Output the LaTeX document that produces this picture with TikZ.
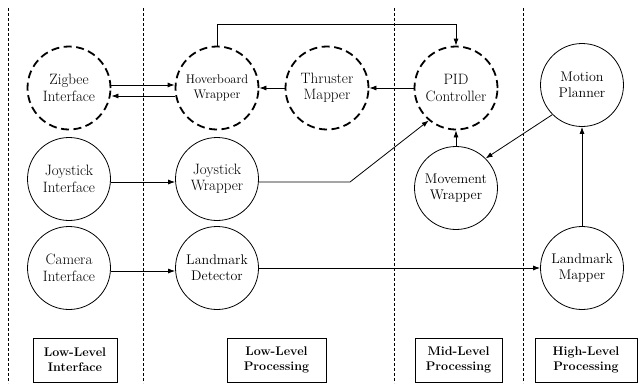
\documentclass[tikz,border=0pt]{standalone}
\usepackage{fontspec}
\usetikzlibrary{arrows.meta}
\tikzset{
	module/.style={circle, draw, line width=0.8pt, minimum size=83pt, inner sep=0pt,
		align=center, font=\fontsize{15}{16.5}\selectfont},
	stubmodule/.style={module, line width=1.8pt, dash pattern=on 8pt off 4.5pt},
	smalltext/.style={font=\fontsize{14}{16}\selectfont},
	tinytext/.style={font=\fontsize{12.5}{14.5}\selectfont},
	levelbox/.style={draw, line width=0.8pt, minimum height=44pt, inner sep=0pt,
		align=center, font=\bfseries\fontsize{12.5}{15}\selectfont},
	divider/.style={line width=0.6pt, dash pattern=on 3pt off 2pt},
	link/.style={line width=0.8pt, -{Latex[length=7pt,width=5pt]}}
}
\newcommand{\Divider}[1]{
	\draw[divider] (#1,8) -- (#1,383);
}
\newcommand{\LevelBox}[4]{
	\node[levelbox, minimum width=#3pt] (#1) at (#2,360) {#4};
}

\begin{document}
\begin{tikzpicture}[x=1pt,y=-1pt]
	\useasboundingbox (0,0) rectangle (639,383);

	\Divider{8}
	\Divider{143}
	\Divider{394}
	\Divider{523}

	% modules
	\node[stubmodule] (zig) at (69,88) {Zigbee\\Interface};
	\node[stubmodule, tinytext] (hov) at (217,88) {Hoverboard\\Wrapper};
	\node[stubmodule] (thr) at (327,88) {Thruster\\Mapper};
	\node[stubmodule] (pid) at (456,88) {PID\\Controller};
	\node[module, smalltext] (mp) at (582,85) {Motion\\Planner};

	\node[module] (ji) at (69,179) {Joystick\\Interface};
	\node[module] (jw) at (217,179) {Joystick\\Wrapper};
	\node[module, smalltext] (mw) at (456,188) {Movement\\Wrapper};

	\node[module] (ci) at (69,268) {Camera\\Interface};
	\node[module, smalltext] (ld) at (217,268) {Landmark\\Detector};
	\node[module, smalltext] (lm) at (582,268) {Landmark\\Mapper};

	\coordinate (bend) at (350,182);

	% links
	\draw[link] ([yshift=3pt]zig.east) -- ([yshift=3pt]hov.west);
	\draw[link] ([yshift=-8pt]hov.west) -- ([yshift=-8pt]zig.east);
	\draw[link] (thr.west) -- (hov.east);
	\draw[link] (pid.west) -- (thr.east);
	\draw[link] (hov.north) -- ++(0,-21) -| (pid.north);
	\draw[link] ([yshift=-3pt]ji.east) -- ([yshift=-3pt]jw.west);
	\draw[link] ([yshift=-3pt]jw.east) -- (bend) -- (pid.230);
	\draw[link] (mw.north) -- (pid.south);
	\draw[link] (mp.225) -- (mw.45);
	\draw[link] (lm.north) -- (mp.south);
	\draw[link] ([yshift=-3pt]ci.east) -- ([yshift=-3pt]ld.west);
	\draw[link] (ld.east) -- (lm.west);

	% levels
	\LevelBox{lli}{75}{84}{Low-Level\\Interface}
	\LevelBox{llp}{276.5}{99}{Low-Level\\Processing}
	\LevelBox{mlp}{458.5}{87}{Mid-Level\\Processing}
	\LevelBox{hlp}{586}{102}{High-Level\\Processing}
\end{tikzpicture}
\end{document}
